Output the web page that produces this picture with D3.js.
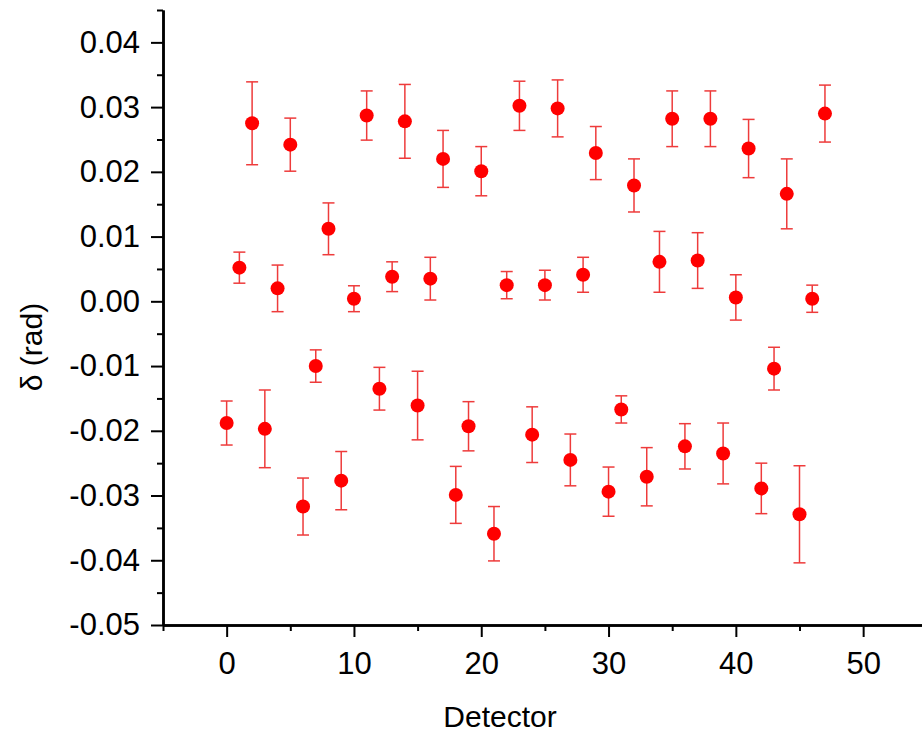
<!DOCTYPE html>
<html>
<head>
<meta charset="utf-8">
<script src="https://cdn.jsdelivr.net/npm/d3@7"></script>
<style>
  body { margin: 0; background: #fff; }
  svg { display: block; font-family: "Liberation Sans", Arial, sans-serif; }
</style>
</head>
<body>
<div id="chart"></div>
<script>
// detector index, phase difference delta (rad) and its error
let detector = [0,1,2,3,4,5,6,7,8,9,10,11,12,13,14,15,16,17,18,19,20,21,22,23,
  24,25,26,27,28,29,30,31,32,33,34,35,36,37,38,39,40,41,42,43,44,45,46,47]
let delta = [-0.0188, 0.0052, 0.0275, -0.0197, 0.0020, 0.0242, -0.0317, -0.0100, 0.0112, -0.0277,
  0.0004, 0.0287, -0.0135, 0.0038, 0.0278, -0.0161, 0.0035, 0.0220, -0.0299, -0.0193,
  0.0201, -0.0359, 0.0025, 0.0302, -0.0206, 0.0025, 0.0298, -0.0245, 0.0041, 0.0229,
  -0.0294, -0.0167, 0.0179, -0.0271, 0.0061, 0.0282, -0.0224, 0.0063, 0.0282, -0.0235,
  0.0006, 0.0236, -0.0289, -0.0104, 0.0166, -0.0329, 0.0004, 0.0290]
let err = [0.0034, 0.0024, 0.0064, 0.0060, 0.0036, 0.0041, 0.0044, 0.0025, 0.0040, 0.0045,
  0.0020, 0.0038, 0.0033, 0.0023, 0.0057, 0.0053, 0.0033, 0.0044, 0.0044, 0.0038,
  0.0038, 0.0042, 0.0021, 0.0038, 0.0043, 0.0023, 0.0044, 0.0040, 0.0027, 0.0041,
  0.0038, 0.0021, 0.0041, 0.0045, 0.0047, 0.0043, 0.0035, 0.0043, 0.0043, 0.0047,
  0.0035, 0.0045, 0.0039, 0.0033, 0.0054, 0.0075, 0.0021, 0.0044]

let xMajor = [0, 10, 20, 30, 40, 50]
let xMinor = [-5, 5, 15, 25, 35, 45, 55]
let yMajor = [-0.05, -0.04, -0.03, -0.02, -0.01, 0.00, 0.01, 0.02, 0.03, 0.04]
let yMinor = [-0.045, -0.035, -0.025, -0.015, -0.005, 0.005, 0.015, 0.025, 0.035, 0.045]

let data = detector.map((d, i) => ({ x: d, y: delta[i], e: err[i] }))

let W = 922, H = 735
let margin = { top: 10, left: 163 }
let plotBottom = 625

let svg = d3.select("#chart").append("svg")
  .attr("width", W)
  .attr("height", H)

// Axes. x runs past the right edge of the window, as in the reference
let xAx = d3.scaleLinear()
  .domain([-5, 55])
  .range([margin.left, margin.left + 60 * 12.73])
let yAx = d3.scaleLinear()
  .domain([-0.05, 0.045])
  .range([plotBottom, margin.top])

const styleAxis = g => {
  g.select(".domain").attr("stroke", "#000").attr("stroke-width", 2.5)
  g.selectAll(".tick line").attr("stroke", "#000").attr("stroke-width", 2)
  g.selectAll("text").attr("fill", "#000").style("font-size", "31px")
}

// minor ticks first, then major with labels
svg.append("g")
  .attr("transform", "translate(0," + plotBottom + ")")
  .call(d3.axisBottom(xAx).tickValues(xMinor).tickSize(6).tickSizeOuter(0).tickFormat(""))
  .call(styleAxis)
svg.append("g")
  .attr("transform", "translate(0," + plotBottom + ")")
  .call(d3.axisBottom(xAx).tickValues(xMajor).tickSize(12).tickSizeOuter(0).tickPadding(15)
    .tickFormat(d => d))
  .call(styleAxis)

svg.append("g")
  .attr("transform", "translate(" + margin.left + ",0)")
  .call(d3.axisLeft(yAx).tickValues(yMinor).tickSize(6).tickSizeOuter(0).tickFormat(""))
  .call(styleAxis)
svg.append("g")
  .attr("transform", "translate(" + margin.left + ",0)")
  .call(d3.axisLeft(yAx).tickValues(yMajor).tickSize(12).tickSizeOuter(0).tickPadding(11)
    .tickFormat(d => d.toFixed(2)))
  .call(styleAxis)

// axis titles
svg.append("text")
  .attr("x", 500)
  .attr("y", 727)
  .attr("text-anchor", "middle")
  .style("font-size", "30px")
  .text("Detector")
svg.append("text")
  .attr("transform", "translate(42,347) rotate(-90)")
  .attr("text-anchor", "middle")
  .style("font-size", "30px")
  .text("δ (rad)")

// error bars
let errColor = "#ee3b3b"
let bars = svg.append("g")
  .selectAll("g")
  .data(data)
  .join("g")
  .attr("stroke", errColor)
  .attr("stroke-width", 1.5)
bars.append("line")
  .attr("x1", d => xAx(d.x)).attr("x2", d => xAx(d.x))
  .attr("y1", d => yAx(d.y + d.e)).attr("y2", d => yAx(d.y - d.e))
bars.append("line")
  .attr("x1", d => xAx(d.x) - 6).attr("x2", d => xAx(d.x) + 6)
  .attr("y1", d => yAx(d.y + d.e)).attr("y2", d => yAx(d.y + d.e))
bars.append("line")
  .attr("x1", d => xAx(d.x) - 6).attr("x2", d => xAx(d.x) + 6)
  .attr("y1", d => yAx(d.y - d.e)).attr("y2", d => yAx(d.y - d.e))

// points
svg.append("g")
  .selectAll("circle")
  .data(data)
  .join("circle")
  .attr("cx", d => xAx(d.x))
  .attr("cy", d => yAx(d.y))
  .attr("r", 7)
  .attr("fill", "#ff0000")
</script>
</body>
</html>
